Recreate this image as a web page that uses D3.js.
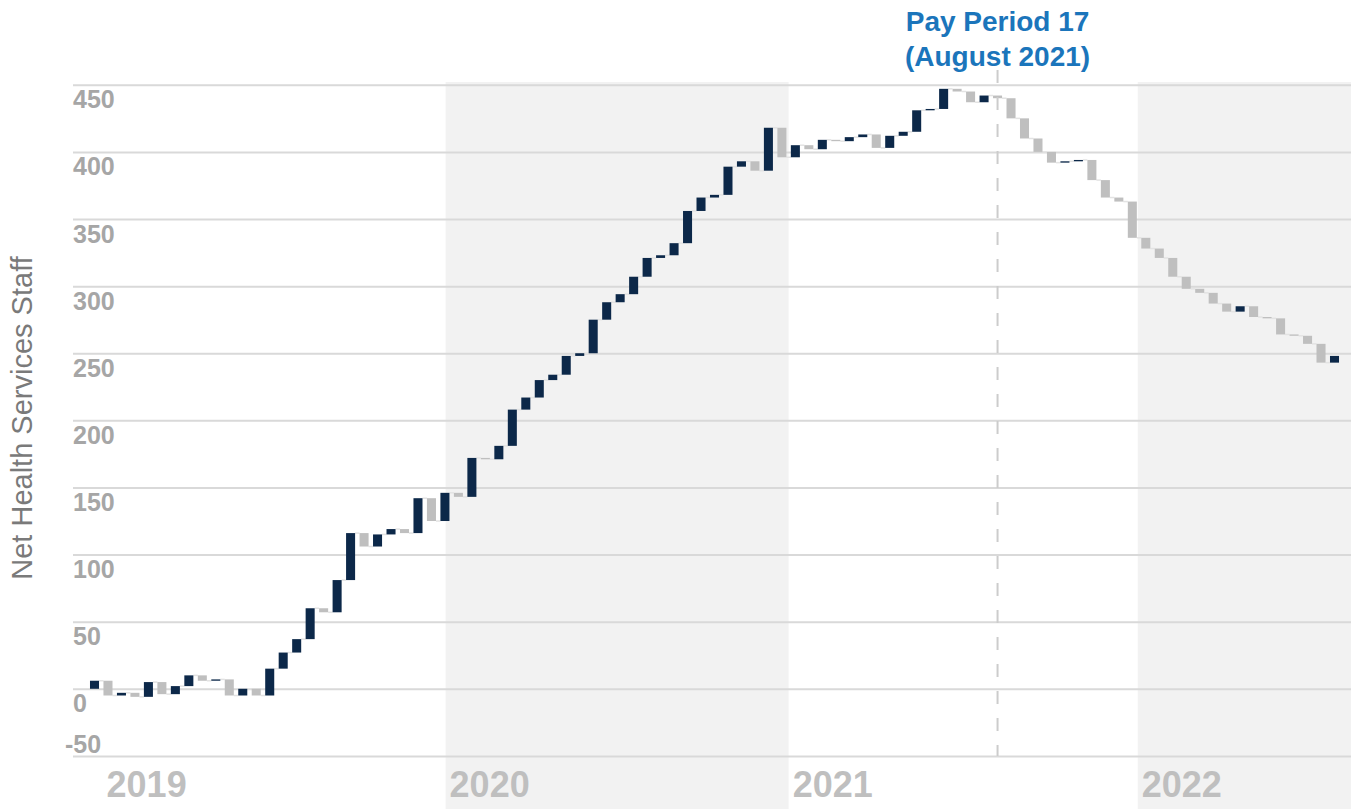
<!DOCTYPE html>
<html>
<head>
<meta charset="utf-8">
<script src="https://cdn.jsdelivr.net/npm/d3@7/dist/d3.min.js"></script>
<style>
  html, body { margin: 0; padding: 0; background: #fff; }
  svg { display: block; font-family: "Liberation Sans", Arial, sans-serif; }
</style>
</head>
<body>
<svg id="chart" width="1351" height="809"></svg>
<script>
// net change in health services staff, one value per pay period (Jan 2019 -> mid 2022)
var periodChange = [
  6, -11, 2, -3, 11, -9, 6, 8, -4, 1, -12, 5, -5, 20, 12, 10, 23, -3, 24, 35,
  -10, 9, 4, -3, 26, -17, 21, -3, 29, -1, 10, 27, 9, 13, 4, 14, 2, 25, 13, 6,
  13, 14, 2, 9, 24, 10, 2, 21, 4, -7, 32, -22, 9, -3, 7, -1, 3, 2, -10, 9,
  3, 16, 1, 15, -2, -8, 5, -2, -15, -15, -10, -8, 1, 1, -15, -13, -3, -27, -8, -7,
  -14, -9, -3, -8, -6, 4, -8, -1, -12, -1, -6, -14, 5
];

// calendar years, with the pay period (fractional) where each begins
var yearLabels = ["2019", "2020", "2021", "2022"];
var yearStarts = [0.6, 26.05, 51.5, 77.4];
var shadedYears = ["2020", "2022"];

var yTicks = [-50, 0, 50, 100, 150, 200, 250, 300, 350, 400, 450];

var markerPeriod = 67;
var markerText = ["Pay Period 17", "(August 2021)"];

var width = 1351, height = 809;
var plotLeft = 73, plotTop = 82;

var svg = d3.select("#chart");

// running total: each bar goes from the previous total to the new one
var totals = d3.cumsum(periodChange);
var bars = periodChange.map(function(d, i) {
  var start = i === 0 ? 0 : totals[i - 1];
  return { i: i, start: start, end: totals[i], change: d };
});

var x = d3.scaleLinear()
  .domain([0, periodChange.length - 1])
  .range([94.5, 1334.5]);
var step = x(1) - x(0);
var barWidth = step * 0.67;

var y = d3.scaleLinear()
  .domain([-50, 450])
  .range([755.9, 84.8]);

// alternate year bands
var years = yearLabels.map(function(label, k) {
  var endPos = k + 1 < yearStarts.length ? x(yearStarts[k + 1]) : width;
  return { label: label, x0: x(yearStarts[k]), x1: endPos };
});

svg.append("g").selectAll("rect")
  .data(years.filter(function(d) { return shadedYears.indexOf(d.label) >= 0; }))
  .enter().append("rect")
    .attr("x", function(d) { return d.x0; })
    .attr("y", plotTop)
    .attr("width", function(d) { return d.x1 - d.x0; })
    .attr("height", height - plotTop)
    .attr("fill", "#f2f2f2");

// gridlines + tick labels, built from an axis then restyled
// (plain hyphen for the minus sign, like the original)
var yAxis = svg.append("g")
  .attr("transform", "translate(" + plotLeft + ",0)")
  .call(d3.axisRight(y).tickValues(yTicks).tickSize(width - plotLeft)
    .tickFormat(function(d) { return String(d); }));

yAxis.select(".domain").remove();
yAxis.selectAll(".tick line")
  .attr("stroke", "#d9d9d9")
  .attr("stroke-width", 2);
yAxis.selectAll(".tick text")
  .attr("x", function(d) { return d < 0 ? -8 : 0; })
  .attr("dy", null)
  // labels hang under their line, except the lowest which sits above it
  .attr("y", function(d) { return d === yTicks[0] ? -3 : 23; })
  .attr("text-anchor", "start")
  .attr("font-size", 25)
  .attr("font-weight", "bold")
  .attr("font-family", "\"Liberation Sans\", Arial, sans-serif")
  .attr("fill", "#a6a6a6");

// connectors between consecutive bars
svg.append("g").selectAll("line")
  .data(bars.slice(0, bars.length - 1))
  .enter().append("line")
    .attr("x1", function(d) { return x(d.i) + barWidth / 2; })
    .attr("x2", function(d) { return x(d.i + 1) - barWidth / 2; })
    .attr("y1", function(d) { return y(d.end); })
    .attr("y2", function(d) { return y(d.end); })
    .attr("stroke", "#e3e3e3")
    .attr("stroke-width", 1.5);

svg.append("g").selectAll("rect")
  .data(bars)
  .enter().append("rect")
    .attr("x", function(d) { return x(d.i) - barWidth / 2; })
    .attr("y", function(d) { return y(Math.max(d.start, d.end)); })
    .attr("width", barWidth)
    .attr("height", function(d) { return Math.max(1, Math.abs(y(d.start) - y(d.end))); })
    .attr("fill", function(d) { return d.change >= 0 ? "#0c2849" : "#bfbfbf"; });

// year labels along the bottom
svg.append("g").selectAll("text")
  .data(years)
  .enter().append("text")
    .attr("x", function(d) { return d.x0 + 4; })
    .attr("y", 797)
    .attr("font-size", 36)
    .attr("font-weight", "bold")
    .attr("fill", "#bfbfbf")
    .text(function(d) { return d.label; });

// marker for pay period 17
var mx = x(markerPeriod);
svg.append("line")
  .attr("x1", mx).attr("x2", mx)
  .attr("y1", 70).attr("y2", y(-50))
  .attr("stroke", "#cccccc")
  .attr("stroke-width", 2)
  .attr("stroke-dasharray", "13,14");

svg.append("g").selectAll("text")
  .data(markerText)
  .enter().append("text")
    .attr("x", mx)
    .attr("y", function(d, k) { return 31 + k * 35; })
    .attr("text-anchor", "middle")
    .attr("font-size", 28)
    .attr("font-weight", "bold")
    .attr("fill", "#1b75bb")
    .text(function(d) { return d; });

svg.append("text")
  .attr("transform", "translate(32,418) rotate(-90)")
  .attr("text-anchor", "middle")
  .attr("font-size", 29)
  .attr("fill", "#7a7a7a")
  .text("Net Health Services Staff");
</script>
</body>
</html>
